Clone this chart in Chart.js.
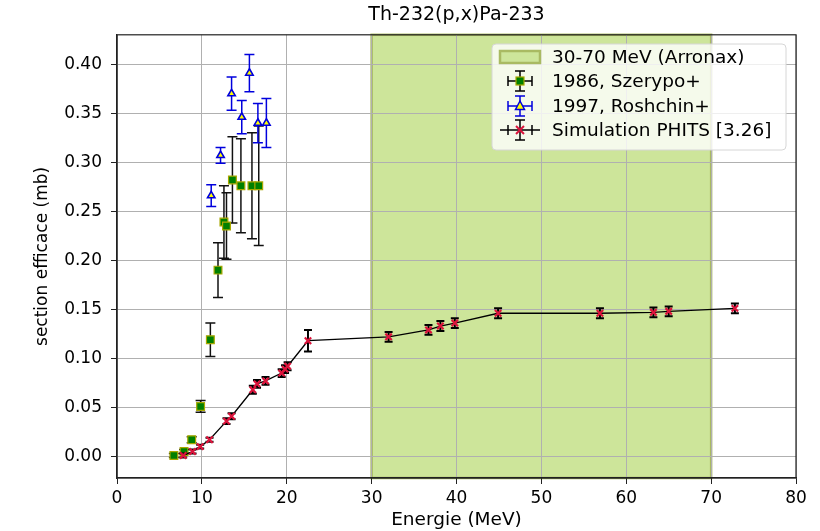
<!DOCTYPE html>
<html lang="fr">
<head>
<meta charset="UTF-8">
<title>Th-232(p,x)Pa-233</title>
<style>
    * { margin: 0; padding: 0; box-sizing: border-box; }
    body { background: #fff; width: 820px; height: 531px; overflow: hidden; }
    canvas { display: block; }
</style>
</head>
<body>
<canvas id="chart" width="820" height="531"></canvas>

<script src="https://cdn.jsdelivr.net/npm/chart.js"></script>
<script>
    // energy band of the Arronax cyclotron (MeV)
    const bandRange = [30, 70];

    // 1986, Szerypo+
    const szeE   = [6.7, 7.9, 8.8, 9.85, 11.0, 11.9, 12.6, 12.9, 13.6, 14.6, 15.9, 16.7];
    const szeV   = [0.001, 0.005, 0.017, 0.051, 0.119, 0.190, 0.239, 0.235, 0.282, 0.276, 0.276, 0.276];
    const szeErr = [0.002, 0.002, 0.003, 0.006, 0.017, 0.028, 0.037, 0.034, 0.044, 0.048, 0.054, 0.061];

    // 1997, Roshchin+
    const rosE   = [11.1, 12.2, 13.5, 14.7, 15.6, 16.6, 17.6];
    const rosV   = [0.266, 0.307, 0.370, 0.346, 0.391, 0.340, 0.340];
    const rosErr = [0.011, 0.008, 0.017, 0.017, 0.019, 0.020, 0.025];

    // Simulation PHITS [3.26]
    const simE   = [7.8, 8.9, 9.8, 10.9, 12.9, 13.5, 16.0, 16.5, 17.5, 19.4, 19.8, 20.1, 22.5,
                    32.0, 36.7, 38.1, 39.8, 44.9, 56.9, 63.2, 65.0, 72.8];
    const simV   = [0.001, 0.005, 0.010, 0.017, 0.036, 0.041, 0.068, 0.074, 0.077, 0.085, 0.089, 0.092, 0.118,
                    0.122, 0.129, 0.133, 0.136, 0.146, 0.146, 0.147, 0.148, 0.151];
    const simErr = [0.002, 0.002, 0.002, 0.002, 0.003, 0.003, 0.004, 0.004, 0.004, 0.004, 0.004, 0.004, 0.011,
                    0.005, 0.005, 0.005, 0.005, 0.005, 0.005, 0.005, 0.005, 0.005];

    const xTicks = [0, 10, 20, 30, 40, 50, 60, 70, 80];
    const yTicks = [0.00, 0.05, 0.10, 0.15, 0.20, 0.25, 0.30, 0.35, 0.40];

    const legendLabels = ['30-70 MeV (Arronax)', '1986, Szerypo+', '1997, Roshchin+', 'Simulation PHITS [3.26]'];

    const FONT = 'DejaVu Sans';
    const toPoints = (xs, ys) => xs.map((x, i) => ({ x: x, y: ys[i] }));

    // shaded energy band, drawn before the grid so grid lines stay on top
    const bandPlugin = {
        id: 'band',
        beforeDraw(chart) {
            const { ctx, chartArea, scales } = chart;
            const x0 = scales.x.getPixelForValue(bandRange[0]);
            const x1 = scales.x.getPixelForValue(bandRange[1]);
            ctx.save();
            ctx.fillStyle = '#cde59a';
            ctx.fillRect(x0, chartArea.top, x1 - x0, chartArea.bottom - chartArea.top);
            ctx.strokeStyle = '#a9ba62';
            ctx.lineWidth = 2.5;
            ctx.strokeRect(x0, chartArea.top, x1 - x0, chartArea.bottom - chartArea.top);
            ctx.restore();
        }
    };

    // vertical error bars with caps, drawn under each dataset's markers
    const errorBarPlugin = {
        id: 'errorBars',
        beforeDatasetDraw(chart, args) {
            const ds = chart.data.datasets[args.index];
            if (!ds.errors) return;
            const { ctx, chartArea, scales } = chart;
            ctx.save();
            ctx.beginPath();
            ctx.rect(chartArea.left, chartArea.top, chartArea.right - chartArea.left, chartArea.bottom - chartArea.top);
            ctx.clip();
            ctx.strokeStyle = ds.errorColor;
            ctx.lineWidth = ds.errorWidth;
            const cap = ds.capSize;
            ds.data.forEach((p, i) => {
                const px = scales.x.getPixelForValue(p.x);
                const top = scales.y.getPixelForValue(p.y + ds.errors[i]);
                const bot = scales.y.getPixelForValue(p.y - ds.errors[i]);
                ctx.beginPath();
                ctx.moveTo(px, top); ctx.lineTo(px, bot);
                ctx.moveTo(px - cap, top); ctx.lineTo(px + cap, top);
                ctx.moveTo(px - cap, bot); ctx.lineTo(px + cap, bot);
                ctx.stroke();
            });
            ctx.restore();
        }
    };

    // top/right spines, matplotlib-like legend
    const framePlugin = {
        id: 'frame',
        afterDraw(chart) {
            const { ctx, chartArea } = chart;
            ctx.save();
            ctx.strokeStyle = '#222';
            ctx.lineWidth = 1.2;
            ctx.strokeRect(chartArea.left, chartArea.top, chartArea.right - chartArea.left, chartArea.bottom - chartArea.top);

            // legend box
            const lx = 492, ly = 44, lw = 294, lh = 106;
            ctx.fillStyle = 'rgba(255,255,255,0.8)';
            ctx.strokeStyle = '#d6d6d6';
            ctx.lineWidth = 1;
            ctx.beginPath();
            ctx.roundRect(lx, ly, lw, lh, 4);
            ctx.fill();
            ctx.stroke();

            const rowY = [57, 81, 106, 130];
            const hx = 520;
            // band patch
            ctx.fillStyle = '#cde59a';
            ctx.strokeStyle = '#a9ba62';
            ctx.lineWidth = 2.5;
            ctx.fillRect(hx - 20, rowY[0] - 6, 40, 12);
            ctx.strokeRect(hx - 20, rowY[0] - 6, 40, 12);

            const errGlyph = (y, color, withLine) => {
                ctx.strokeStyle = color;
                ctx.lineWidth = 1.5;
                ctx.beginPath();
                if (withLine) { ctx.moveTo(hx - 20, y); ctx.lineTo(hx + 20, y); }
                else { ctx.moveTo(hx - 12, y); ctx.lineTo(hx + 12, y); }
                ctx.moveTo(hx - 12, y - 5); ctx.lineTo(hx - 12, y + 5);
                ctx.moveTo(hx + 12, y - 5); ctx.lineTo(hx + 12, y + 5);
                ctx.moveTo(hx, y - 10); ctx.lineTo(hx, y + 10);
                ctx.moveTo(hx - 5, y - 10); ctx.lineTo(hx + 5, y - 10);
                ctx.moveTo(hx - 5, y + 10); ctx.lineTo(hx + 5, y + 10);
                ctx.stroke();
            };
            errGlyph(rowY[1], '#000', false);
            ctx.fillStyle = '#008000';
            ctx.strokeStyle = '#a8a800';
            ctx.lineWidth = 1.2;
            ctx.fillRect(hx - 4, rowY[1] - 4, 8, 8);
            ctx.strokeRect(hx - 4, rowY[1] - 4, 8, 8);

            errGlyph(rowY[2], '#0000dd', false);
            ctx.fillStyle = '#ffff00';
            ctx.strokeStyle = '#0000dd';
            ctx.lineWidth = 1.5;
            ctx.beginPath();
            ctx.moveTo(hx, rowY[2] - 5); ctx.lineTo(hx + 4.5, rowY[2] + 3.5); ctx.lineTo(hx - 4.5, rowY[2] + 3.5);
            ctx.closePath(); ctx.fill(); ctx.stroke();

            errGlyph(rowY[3], '#000', true);
            ctx.strokeStyle = '#dc143c';
            ctx.lineWidth = 2;
            ctx.beginPath();
            ctx.moveTo(hx - 4, rowY[3] - 4); ctx.lineTo(hx + 4, rowY[3] + 4);
            ctx.moveTo(hx + 4, rowY[3] - 4); ctx.lineTo(hx - 4, rowY[3] + 4);
            ctx.stroke();

            ctx.fillStyle = '#000';
            ctx.font = '18.5px "' + FONT + '"';
            ctx.textBaseline = 'middle';
            ctx.textAlign = 'left';
            legendLabels.forEach((t, i) => ctx.fillText(t, 552, rowY[i] + 1));
            ctx.restore();
        }
    };

    new Chart(document.getElementById('chart'), {
        type: 'scatter',
        data: {
            datasets: [
                {
                    label: legendLabels[1],
                    data: toPoints(szeE, szeV),
                    errors: szeErr, errorColor: '#111', errorWidth: 1.5, capSize: 5,
                    pointStyle: 'rect', pointRadius: 5.5, pointHoverRadius: 5.5,
                    backgroundColor: '#008000', borderColor: '#a8a800', pointBorderWidth: 1.2,
                    order: 3
                },
                {
                    label: legendLabels[2],
                    data: toPoints(rosE, rosV),
                    errors: rosErr, errorColor: '#0000dd', errorWidth: 1.5, capSize: 5,
                    pointStyle: 'triangle', pointRadius: 4.3, pointHoverRadius: 4.3,
                    backgroundColor: '#ffff00', borderColor: '#0000dd', pointBorderWidth: 1.6,
                    order: 2
                },
                {
                    label: legendLabels[3],
                    data: toPoints(simE, simV),
                    errors: simErr, errorColor: '#000', errorWidth: 2, capSize: 4,
                    showLine: true, borderColor: '#000', borderWidth: 1.3,
                    pointStyle: 'crossRot', pointRadius: 4.5, pointHoverRadius: 4.5,
                    pointBorderColor: '#dc143c', pointBorderWidth: 2.2,
                    order: 1
                }
            ]
        },
        options: {
            responsive: false,
            animation: false,
            events: [],
            layout: { padding: { top: 0, right: 24, bottom: 0, left: 26 } },
            plugins: {
                legend: { display: false },
                tooltip: { enabled: false },
                title: {
                    display: true,
                    fullSize: false,
                    text: 'Th-232(p,x)Pa-233',
                    color: '#000',
                    font: { family: FONT, size: 19, weight: 'normal' },
                    padding: { top: 4, bottom: 8 }
                }
            },
            scales: {
                x: {
                    type: 'linear',
                    min: 0, max: 80,
                    afterBuildTicks: s => { s.ticks = xTicks.map(v => ({ value: v })); },
                    afterFit: s => { s.height = 53; },
                    ticks: {
                        color: '#000', padding: 4,
                        font: { family: FONT, size: 17 },
                        callback: v => String(v)
                    },
                    grid: { color: '#b0b0b0', lineWidth: 1, tickLength: 6, tickColor: '#222' },
                    border: { color: '#222', width: 1.2 },
                    title: {
                        display: true, text: 'Energie (MeV)', color: '#000',
                        font: { family: FONT, size: 18.5 }, padding: { top: 0, bottom: 0 }
                    }
                },
                y: {
                    type: 'linear',
                    min: -0.022, max: 0.43,
                    afterBuildTicks: s => { s.ticks = yTicks.map(v => ({ value: v })); },
                    afterFit: s => { s.width = 91; },
                    ticks: {
                        color: '#000', padding: 9,
                        font: { family: FONT, size: 17 },
                        callback: v => v.toFixed(2)
                    },
                    grid: { color: '#b0b0b0', lineWidth: 1, tickLength: 6, tickColor: '#222' },
                    border: { color: '#222', width: 1.2 },
                    title: {
                        display: true, text: 'section efficace (mb)', color: '#000',
                        font: { family: FONT, size: 17 }, padding: { top: 6, bottom: 0 }
                    }
                }
            }
        },
        plugins: [bandPlugin, errorBarPlugin, framePlugin]
    });
</script>
</body>
</html>
